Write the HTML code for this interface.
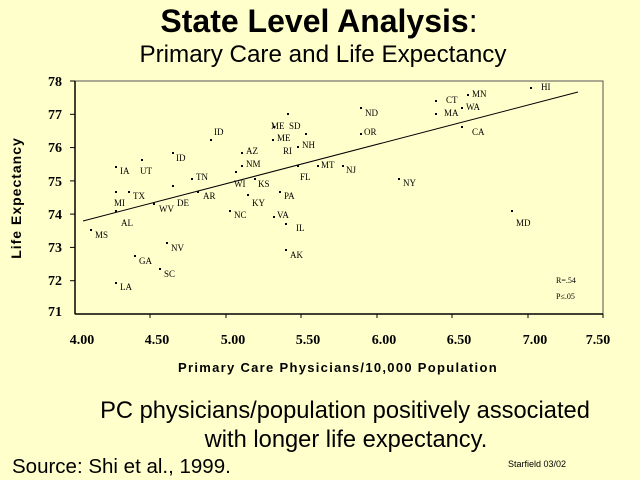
<!DOCTYPE html>
<html><head><meta charset="utf-8"><style>
html,body{margin:0;padding:0;background:#ffffcc;}
svg{display:block;}
</style></head><body>
<svg width="640" height="480" xmlns="http://www.w3.org/2000/svg">
<rect width="640" height="480" fill="#ffffcc"/>
<text x="319" y="32" text-anchor="middle" font-family="Liberation Sans, sans-serif" font-size="32" font-weight="bold">State Level Analysis<tspan font-weight="normal">:</tspan></text>
<text x="323" y="62" text-anchor="middle" font-family="Liberation Sans, sans-serif" font-size="24.2">Primary Care and Life Expectancy</text>
<g stroke="#000" stroke-width="1" fill="none">
<rect x="75" y="81" width="528" height="233" stroke="#555"/>
</g>
<g stroke="#000" stroke-width="1.5">
<line x1="75" y1="81" x2="75" y2="314"/>
<line x1="75" y1="314" x2="603" y2="314"/>
</g>
<g stroke="#000" stroke-width="1">
<line x1="70" y1="81" x2="75" y2="81"/><line x1="70" y1="114.3" x2="75" y2="114.3"/><line x1="70" y1="147.6" x2="75" y2="147.6"/><line x1="70" y1="180.9" x2="75" y2="180.9"/><line x1="70" y1="214.1" x2="75" y2="214.1"/><line x1="70" y1="247.4" x2="75" y2="247.4"/><line x1="70" y1="280.7" x2="75" y2="280.7"/>
<line x1="150" y1="314" x2="150" y2="318"/><line x1="226" y1="314" x2="226" y2="318"/><line x1="301" y1="314" x2="301" y2="318"/><line x1="377" y1="314" x2="377" y2="318"/><line x1="452" y1="314" x2="452" y2="318"/><line x1="528" y1="314" x2="528" y2="318"/><line x1="603" y1="314" x2="603" y2="318"/>
</g>
<g font-family="Liberation Serif, serif" font-size="14" font-weight="bold" text-anchor="end">
<text x="62" y="86">78</text><text x="62" y="119">77</text><text x="62" y="152">76</text><text x="62" y="186">75</text><text x="62" y="219">74</text><text x="62" y="252">73</text><text x="62" y="285">72</text><text x="62" y="316">71</text>
</g>
<g font-family="Liberation Serif, serif" font-size="14" font-weight="bold" text-anchor="middle">
<text x="82" y="344">4.00</text><text x="157" y="344">4.50</text><text x="233" y="344">5.00</text><text x="308" y="344">5.50</text><text x="384" y="344">6.00</text><text x="459" y="344">6.50</text><text x="535" y="344">7.00</text><text x="598" y="344">7.50</text>
</g>
<text x="338" y="372" text-anchor="middle" font-family="Liberation Sans, sans-serif" font-size="13" font-weight="bold" letter-spacing="1.3">Primary Care Physicians/10,000 Population</text>
<text transform="translate(21,198) rotate(-90)" text-anchor="middle" font-family="Liberation Sans, sans-serif" font-size="14" font-weight="bold" letter-spacing="1">Life Expectancy</text>
<line x1="83" y1="221" x2="578" y2="92" stroke="#000" stroke-width="1"/>
<g fill="#000">
<rect x="90" y="229" width="2" height="2"/><rect x="115" y="282" width="2" height="2"/><rect x="134" y="255" width="2" height="2"/><rect x="159" y="268" width="2" height="2"/><rect x="166" y="242" width="2" height="2"/><rect x="115" y="210" width="2" height="2"/><rect x="115" y="191" width="2" height="2"/><rect x="128" y="191" width="2" height="2"/><rect x="115" y="166" width="2" height="2"/><rect x="141" y="159" width="2" height="2"/><rect x="153" y="203" width="2" height="2"/><rect x="172" y="185" width="2" height="2"/><rect x="172" y="152" width="2" height="2"/><rect x="191" y="178" width="2" height="2"/><rect x="197" y="191" width="2" height="2"/><rect x="210" y="139" width="2" height="2"/><rect x="229" y="210" width="2" height="2"/><rect x="235" y="171" width="2" height="2"/><rect x="254" y="178" width="2" height="2"/><rect x="247" y="194" width="2" height="2"/><rect x="241" y="152" width="2" height="2"/><rect x="241" y="165" width="2" height="2"/><rect x="273" y="126" width="2" height="2"/><rect x="272" y="139" width="2" height="2"/><rect x="287" y="113" width="2" height="2"/><rect x="305" y="133" width="2" height="2"/><rect x="297" y="146" width="2" height="2"/><rect x="317" y="165" width="2" height="2"/><rect x="297" y="165" width="2" height="2"/><rect x="279" y="191" width="2" height="2"/><rect x="273" y="216" width="2" height="2"/><rect x="285" y="223" width="2" height="2"/><rect x="285" y="249" width="2" height="2"/><rect x="342" y="165" width="2" height="2"/><rect x="398" y="178" width="2" height="2"/><rect x="360" y="107" width="2" height="2"/><rect x="360" y="133" width="2" height="2"/><rect x="435" y="100" width="2" height="2"/><rect x="435" y="113" width="2" height="2"/><rect x="467" y="94" width="2" height="2"/><rect x="461" y="107" width="2" height="2"/><rect x="461" y="126" width="2" height="2"/><rect x="530" y="87" width="2" height="2"/><rect x="511" y="210" width="2" height="2"/>
</g>
<g font-family="Liberation Serif, serif" font-size="9" dominant-baseline="middle">
<text x="95" y="236">MS</text><text x="120" y="288">LA</text><text x="139" y="262">GA</text><text x="164" y="275">SC</text><text x="171" y="249">NV</text><text x="121" y="224">AL</text><text x="114" y="204">MI</text><text x="133" y="197">TX</text><text x="120" y="172">IA</text><text x="140" y="172">UT</text><text x="159" y="210">WV</text><text x="177" y="204">DE</text><text x="176" y="159">ID</text><text x="196" y="178">TN</text><text x="203" y="197">AR</text><text x="214" y="133">ID</text><text x="234" y="216">NC</text><text x="234" y="185">WI</text><text x="258" y="185">KS</text><text x="252" y="204">KY</text><text x="246" y="152">AZ</text><text x="246" y="165">NM</text><text x="271" y="127">ME</text><text x="277" y="139">ME</text><text x="289" y="127">SD</text><text x="302" y="146">NH</text><text x="283" y="152">RI</text><text x="321" y="166">MT</text><text x="300" y="178">FL</text><text x="284" y="197">PA</text><text x="277" y="216">VA</text><text x="296" y="229">IL</text><text x="290" y="256">AK</text><text x="346" y="171">NJ</text><text x="403" y="184">NY</text><text x="365" y="114">ND</text><text x="364" y="133">OR</text><text x="446" y="101">CT</text><text x="444" y="114">MA</text><text x="472" y="95">MN</text><text x="466" y="108">WA</text><text x="472" y="133">CA</text><text x="541" y="88">HI</text><text x="516" y="224">MD</text>
<text x="556" y="281" font-size="8">R=.54</text><text x="556" y="297" font-size="8">P≤.05</text>
</g>
<text x="345" y="418" text-anchor="middle" font-family="Liberation Sans, sans-serif" font-size="23.7">PC physicians/population positively associated</text>
<text x="346" y="447" text-anchor="middle" font-family="Liberation Sans, sans-serif" font-size="23.7">with longer life expectancy.</text>
<text x="12" y="473" font-family="Liberation Sans, sans-serif" font-size="20.5">Source: Shi et al., 1999.</text>
<text x="508" y="467" font-family="Liberation Sans, sans-serif" font-size="9">Starfield 03/02</text>
</svg>
</body></html>
